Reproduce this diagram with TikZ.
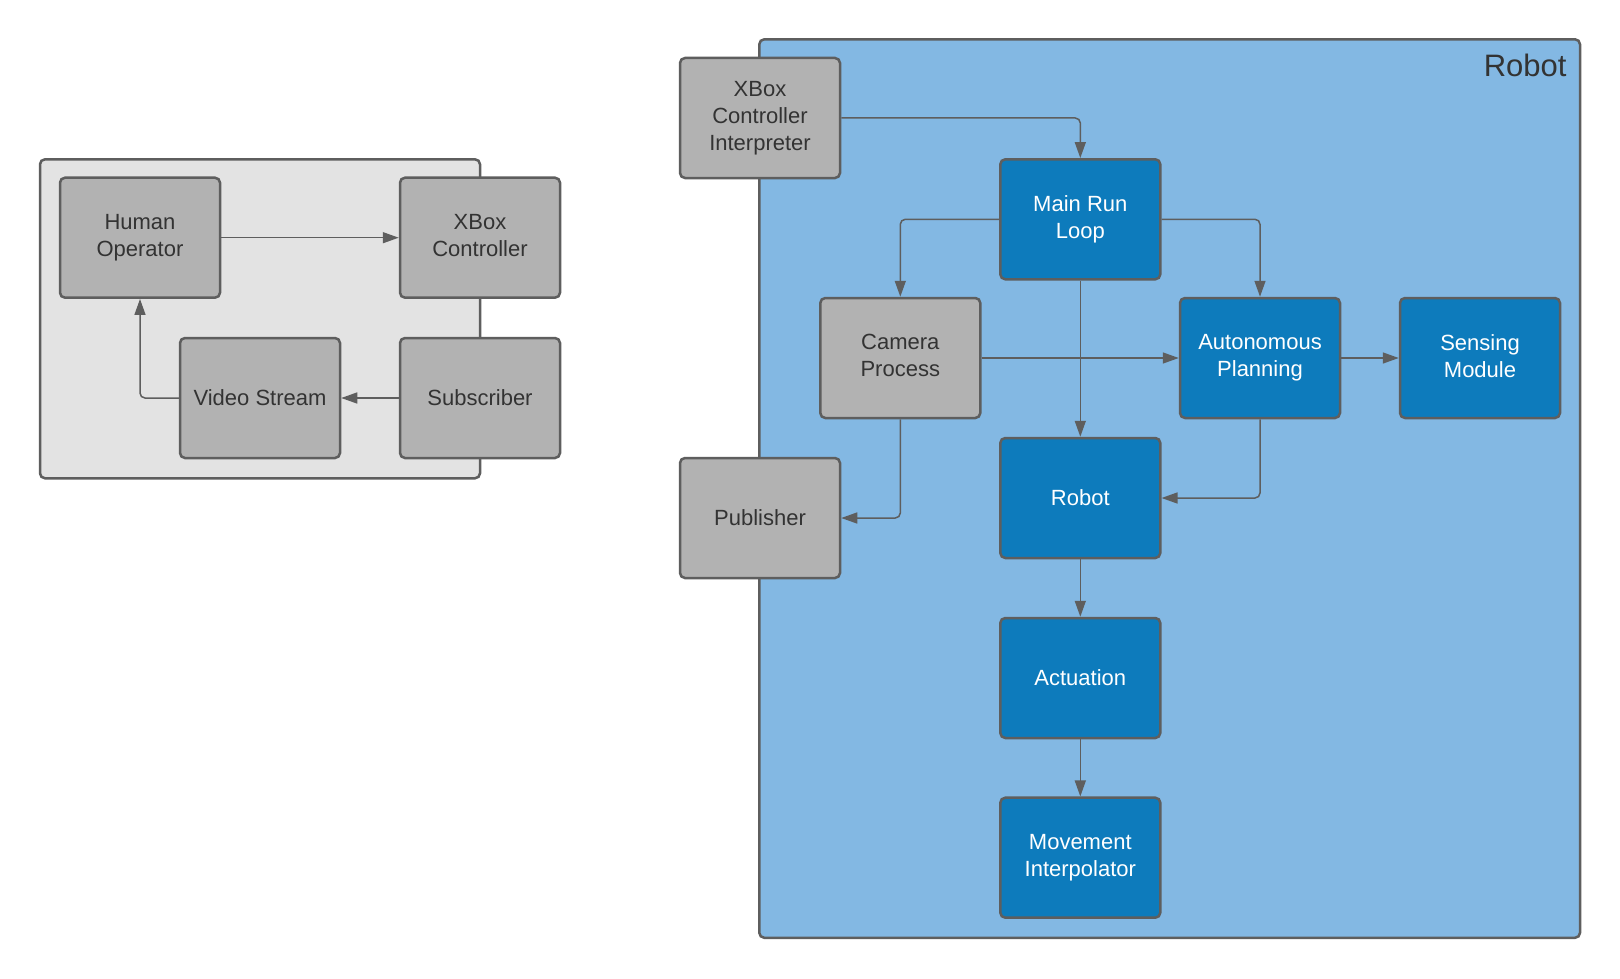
\documentclass[tikz,border=0pt]{standalone}
\usepackage{fontspec}
\setmainfont{Liberation Sans}
\usetikzlibrary{arrows.meta}

\definecolor{edgegray}{RGB}{94,94,94}
\definecolor{boxgray}{RGB}{178,178,178}
\definecolor{panelgray}{RGB}{227,227,227}
\definecolor{panelblue}{RGB}{131,184,227}
\definecolor{boxblue}{RGB}{13,123,188}
\definecolor{textdark}{RGB}{51,51,51}

% fixed line height and depth so every label sits the same way in its box
\newcommand{\lblstrut}{\rule{0pt}{18.9pt}}
\newcommand{\lbldepth}{\rule[-4.5pt]{0pt}{4.5pt}}

\tikzset{
  panel/.style={draw=edgegray, line width=2.5pt, rounded corners=5pt},
  block/.style={draw=edgegray, line width=2.5pt, rounded corners=5pt,
    minimum width=160pt, minimum height=120pt, inner sep=0pt, align=center,
    font=\fontsize{22}{27}\selectfont,
    execute at begin node=\lblstrut, execute at end node=\lbldepth},
  greyblock/.style={block, fill=boxgray, text=textdark},
  blueblock/.style={block, fill=boxblue, text=white},
  flow/.style={draw=edgegray, line width=1.5pt, rounded corners=5pt,
    -{Triangle[length=16pt,width=11pt]}},
}

\begin{document}
\begin{tikzpicture}[x=1pt, y=-1pt]
  \useasboundingbox[fill=white] (0,0) rectangle (1620,979);

  % operator station panel
  \draw[panel, fill=panelgray] (40,159.3) rectangle (480,478.3);
  % robot panel
  \draw[panel, fill=panelblue] (759.3,39.3) rectangle (1580,937.8);
  \node[anchor=base east, text=textdark, font=\fontsize{31}{36}\selectfont]
    (robotlabel) at (1570,77) {Robot};

  % operator station blocks
  \node[greyblock] (ho)  at (140,237.7) {Human\\Operator};
  \node[greyblock] (xb)  at (480,237.7) {XBox\\Controller};
  \node[greyblock] (vs)  at (260,398)   {Video Stream};
  \node[greyblock] (sub) at (480,398)   {Subscriber};

  % robot blocks
  \node[greyblock] (xci) at (760,118)     {XBox\\Controller\\Interpreter};
  \node[blueblock] (mrl) at (1080.3,219.3) {Main Run\\Loop};
  \node[greyblock] (cam) at (900.3,358)   {Camera\\Process};
  \node[blueblock] (ap)  at (1260,358)    {Autonomous\\Planning};
  \node[blueblock] (sm)  at (1480,358)    {Sensing\\Module};
  \node[greyblock] (pub) at (760,518)     {Publisher};
  \node[blueblock] (rob) at (1080.3,498)  {Robot};
  \node[blueblock] (act) at (1080.3,678)  {Actuation};
  \node[blueblock] (mi)  at (1080.3,857.7) {Movement\\Interpolator};

  % operator station connections
  \draw[flow] (ho.east) -- (xb.west);
  \draw[flow] (sub.west) -- (vs.east);
  \draw[flow] (vs.west) -| (ho.south);

  % robot connections
  \draw[flow] (xci.east) -| (mrl.north);
  \draw[flow] (mrl.west) -| (cam.north);
  \draw[flow] (mrl.east) -| (ap.north);
  \draw[flow] (mrl.south) -- (rob.north);
  \draw[flow] (cam.east) -- (ap.west);
  \draw[flow] (ap.east) -- (sm.west);
  \draw[flow] (cam.south) |- (pub.east);
  \draw[flow] (ap.south) |- (rob.east);
  \draw[flow] (rob.south) -- (act.north);
  \draw[flow] (act.south) -- (mi.north);
\end{tikzpicture}
\end{document}
